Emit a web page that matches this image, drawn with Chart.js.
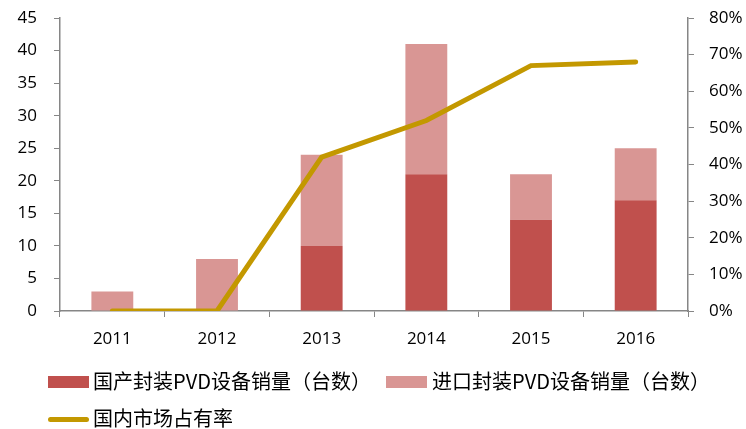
<!DOCTYPE html>
<html>
<head>
<meta charset="utf-8">
<script src="https://cdn.jsdelivr.net/npm/chart.js@4/dist/chart.umd.min.js"></script>
<style>
    html, body { margin: 0; padding: 0; background: #fff; }
    .wrap { position: relative; width: 746px; height: 429px; }
    #mainChart { position: absolute; left: 0; top: 0; }
    .legend-item {
        position: absolute;
        font-family: "Noto Sans CJK SC", "Noto Sans", sans-serif;
        font-size: 20px;
        color: #000;
        line-height: 24px;
        white-space: nowrap;
    }
    .legend-swatch { position: absolute; }
</style>
</head>
<body>
<div class="wrap">
    <canvas id="mainChart" width="746" height="429"></canvas>
    <div id="legend"></div>
</div>
<script>
// Data
const years = ['2011', '2012', '2013', '2014', '2015', '2016'];
const domesticSales = [0, 0, 10, 21, 14, 17];
const importedSales = [3, 8, 14, 20, 7, 8];
const domesticShare = [0, 0, 42, 52, 67, 68];
const seriesNames = ['国产封装PVD设备销量（台数）', '进口封装PVD设备销量（台数）', '国内市场占有率'];

const darkRed = '#C0504D';
const lightRed = '#D99694';
const gold = '#C39800';
const axisGray = '#868686';
const tickFont = { family: '"Open Sans", sans-serif', size: 17 };

// y axes: fixed width, no extra top/bottom padding so the plot top sits at 18px
function fitY(width) {
    return function(scale) {
        scale.width = width;
        scale.paddingTop = 0;
        scale.paddingBottom = 0;
    };
}

const ctx = document.getElementById('mainChart').getContext('2d');
new Chart(ctx, {
    type: 'bar',
    data: {
        labels: years,
        datasets: [
            {
                label: seriesNames[2],
                type: 'line',
                data: domesticShare,
                yAxisID: 'y1',
                borderColor: gold,
                backgroundColor: gold,
                borderWidth: 5,
                pointRadius: 0,
                borderCapStyle: 'round',
                borderJoinStyle: 'miter',
                tension: 0,
                order: 0
            },
            {
                label: seriesNames[0],
                data: domesticSales,
                backgroundColor: darkRed,
                stack: 's',
                barPercentage: 0.4,
                categoryPercentage: 1,
                order: 1
            },
            {
                label: seriesNames[1],
                data: importedSales,
                backgroundColor: lightRed,
                stack: 's',
                barPercentage: 0.4,
                categoryPercentage: 1,
                order: 1
            }
        ]
    },
    options: {
        responsive: false,
        animation: false,
        layout: { padding: { top: 18, left: 0, right: 0, bottom: 0 } },
        plugins: { legend: { display: false }, tooltip: { enabled: false } },
        scales: {
            x: {
                stacked: true,
                grid: { drawOnChartArea: false, color: axisGray, tickLength: 6, offset: true },
                border: { color: axisGray, width: 1.5 },
                ticks: { color: '#000', font: tickFont, padding: 12, maxRotation: 0 },
                afterFit: function(scale) { scale.height = 118; }
            },
            y: {
                stacked: true,
                position: 'left',
                min: 0,
                max: 45,
                grid: { drawOnChartArea: false, color: axisGray, tickLength: 6 },
                border: { color: axisGray, width: 1.5 },
                ticks: { stepSize: 5, color: '#000', font: tickFont, padding: 17 },
                afterFit: fitY(60)
            },
            y1: {
                position: 'right',
                min: 0,
                max: 80,
                grid: { drawOnChartArea: false, color: axisGray, tickLength: 6 },
                border: { color: axisGray, width: 1.5 },
                ticks: {
                    stepSize: 10,
                    color: '#000',
                    font: tickFont,
                    padding: 15,
                    callback: function(value) { return value + '%'; }
                },
                afterFit: fitY(58)
            }
        }
    }
});

// Legend (HTML, two rows like the original)
const legendEl = document.getElementById('legend');
const legendItems = [
    { name: seriesNames[0], kind: 'box', color: darkRed, x: 48, y: 382, textX: 93 },
    { name: seriesNames[1], kind: 'box', color: lightRed, x: 386, y: 382, textX: 432 },
    { name: seriesNames[2], kind: 'line', color: gold, x: 48, y: 419, textX: 93 }
];
legendItems.forEach(item => {
    const sw = document.createElement('div');
    sw.className = 'legend-swatch';
    sw.style.background = item.color;
    sw.style.left = item.x + 'px';
    sw.style.width = '41px';
    if (item.kind === 'box') {
        sw.style.top = (item.y - 6) + 'px';
        sw.style.height = '12px';
    } else {
        sw.style.top = (item.y - 2) + 'px';
        sw.style.height = '5px';
        sw.style.borderRadius = '2.5px';
    }
    legendEl.appendChild(sw);

    const label = document.createElement('div');
    label.className = 'legend-item';
    label.textContent = item.name;
    label.style.left = item.textX + 'px';
    label.style.top = (item.y - 13) + 'px';
    legendEl.appendChild(label);
});
</script>
</body>
</html>
